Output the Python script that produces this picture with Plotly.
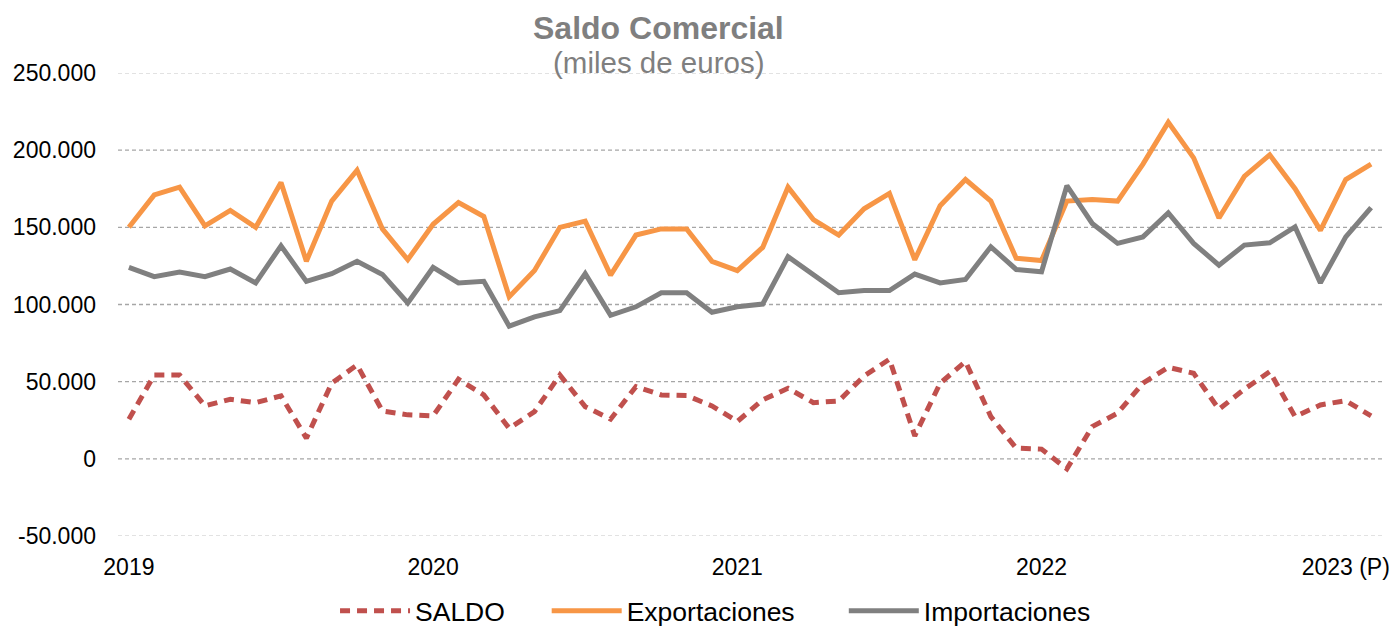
import plotly.graph_objects as go

# Monthly points, Jan 2019 .. Feb 2023 (50 months)
months = list(range(50))

exportaciones_k = [150, 171, 176, 151, 161, 150, 179, 128, 167, 187, 149, 129,
                   152, 166, 157, 105, 122, 150, 154, 119, 145, 149, 149, 128,
                   122, 137, 176, 155, 145, 162, 172, 129, 164, 181, 167, 130,
                   128.5, 167, 168, 167, 191, 218, 195, 156, 183, 197, 175, 148,
                   181, 191]

importaciones_k = [124, 118, 121, 118, 123, 114, 138, 115, 120, 128, 119.5, 101,
                   124, 114, 115, 86, 92, 96, 120, 93, 98.5, 107.6, 107.6, 95,
                   98.5, 100.3, 131, 119, 107.6, 109, 109, 119.7, 114, 116.2, 137.4, 122.7,
                   121.2, 177, 152.5, 139.6, 143.8, 159.4, 139.6, 125.5, 138.5, 140, 150.3, 114,
                   143.8, 162.8]

saldo_k = [25.7, 54.3, 54.3, 34.3, 38.6, 36.4, 40.8, 13.4, 49.0, 60.8,
           31.0, 28.5, 27.8,
           51.6, 41.4, 19.8, 30.6, 54.3, 33.8, 25.7, 46.8, 41.4, 41.0, 34.3, 24.2, 38.2, 45.7,
           36.4, 37.5, 53.7, 64.5, 14.9, 49.0, 63.0, 27.4, 6.9, 6.3, -6.5,
           20.9, 29.6, 49.0, 59.3, 55.4, 32.1, 45.1, 56.5, 27.4, 34.9, 37.7, 27.8]

exportaciones = [v * 1000 for v in exportaciones_k]
importaciones = [v * 1000 for v in importaciones_k]
saldo = [v * 1000 for v in saldo_k]

x_tickvals = [0, 12, 24, 36, 48]
x_ticktext = ["2019", "2020", "2021", "2022", "2023 (P)"]
y_tickvals = [-50000, 0, 50000, 100000, 150000, 200000, 250000]
y_ticktext = ["-50.000", "0", "50.000", "100.000", "150.000", "200.000", "250.000"]

FONT = "Liberation Sans, Arial, sans-serif"
NB = "\u00a0"

fig = go.Figure()
fig.add_trace(go.Scatter(x=months, y=saldo, name="SALDO" + NB * 5, mode="lines",
                         line=dict(color="#C0504D", width=5, dash="10px,7px")))
fig.add_trace(go.Scatter(x=months, y=exportaciones, name="Exportaciones" + NB * 6, mode="lines",
                         line=dict(color="#F79646", width=5)))
fig.add_trace(go.Scatter(x=months, y=importaciones, name="Importaciones", mode="lines",
                         line=dict(color="#808080", width=5)))

shapes = []
for v in y_tickvals:
    edge = v in (y_tickvals[0], y_tickvals[-1])
    shapes.append(dict(type="line", xref="paper", yref="y", x0=0, x1=1, y0=v, y1=v,
                       layer="below",
                       line=dict(color="#D9D9D9" if edge else "#A6A6A6", width=1.3,
                                 dash="4px,3px")))

H = 635
T = 73
B = 0
paper_h = H - T - B
plot_bottom_px = 536
dom0 = (H - plot_bottom_px) / paper_h

def py(px):
    return (H - px) / paper_h

fig.update_layout(
    width=1395, height=H,
    margin=dict(l=118, r=13, t=T, b=B, pad=0),
    plot_bgcolor="white", paper_bgcolor="white",
    font=dict(family=FONT, color="black"),
    shapes=shapes,
    showlegend=True,
    legend=dict(orientation="h", x=0.1717, xanchor="left", y=0, yanchor="bottom",
                font=dict(size=26.5, color="black"), itemwidth=70, traceorder="normal",
                bgcolor="rgba(0,0,0,0)"),
    annotations=[
        dict(text="<b>Saldo Comercial</b>", xref="paper", yref="paper", x=0.428, y=py(28),
             xanchor="center", yanchor="middle", showarrow=False,
             font=dict(size=32, color="#7F7F7F", family=FONT)),
        dict(text="(miles de euros)", xref="paper", yref="paper", x=0.428, y=py(63),
             xanchor="center", yanchor="middle", showarrow=False,
             font=dict(size=29.5, color="#7F7F7F", family=FONT)),
    ],
)
fig.update_xaxes(range=[-0.43, 49.43], tickvals=x_tickvals, ticktext=x_ticktext,
                 showgrid=False, zeroline=False, showline=False, ticks="",
                 automargin=False, ticklabelstandoff=15,
                 tickfont=dict(size=23, color="black"))
fig.update_yaxes(range=[-50000, 250000], tickvals=y_tickvals, ticktext=y_ticktext,
                 domain=[dom0, 1],
                 showgrid=False, zeroline=False, showline=False, ticks="",
                 automargin=False, ticklabelstandoff=21,
                 tickfont=dict(size=23, color="black"))

fig.write_html("out.html", config={"displayModeBar": False},
               post_script="document.body.style.margin='0';")
